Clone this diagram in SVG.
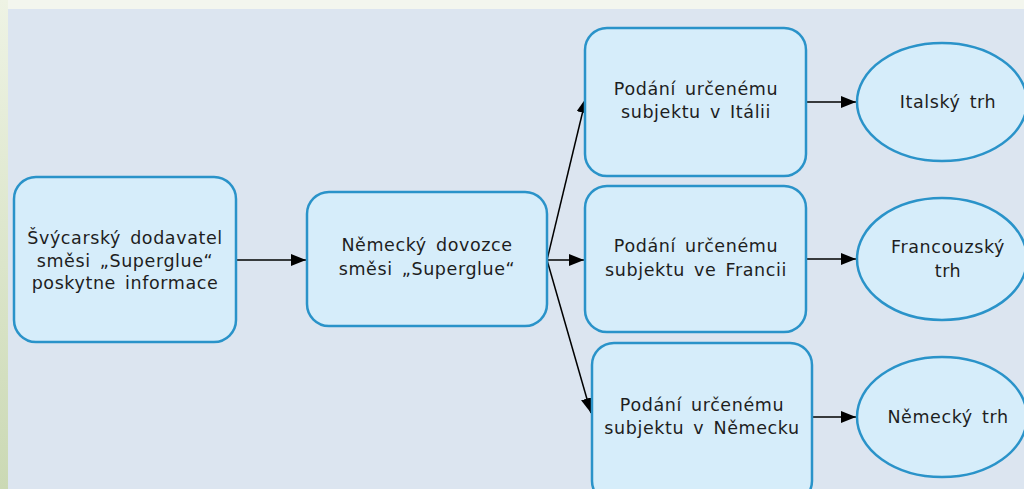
<svg xmlns="http://www.w3.org/2000/svg" width="1024" height="489" viewBox="0 0 1024 489">
<defs>
<linearGradient id="lg" x1="0" y1="0" x2="0" y2="1"><stop offset="0" stop-color="#eef3e4"/><stop offset="1" stop-color="#cbd9b4"/></linearGradient>
<marker id="ah" markerWidth="15" markerHeight="12" refX="15" refY="6" orient="auto" markerUnits="userSpaceOnUse"><path d="M0,0 L15,6 L0,12 z" fill="#000"/></marker>
<style>
.n{fill:#d6edfa;stroke:#2a93c9;stroke-width:2.5}
.t{font-family:"DejaVu Sans",Verdana,sans-serif;font-size:17.5px;letter-spacing:0.6px;word-spacing:3px;fill:#1e1e1e;text-anchor:middle}
.c{stroke:#000;stroke-width:1.5;fill:none;marker-end:url(#ah)}
</style>
</defs>
<rect x="0" y="0" width="1024" height="489" fill="#f3f6ee"/>
<rect x="0" y="0" width="8" height="489" fill="url(#lg)"/>
<rect x="8" y="9" width="1016" height="480" fill="#dce5f0"/>
<g id="connectors">
<line class="c" x1="236" y1="260" x2="306" y2="260"/>
<line class="c" x1="547" y1="260" x2="586" y2="98"/>
<line class="c" x1="547" y1="260" x2="584" y2="260"/>
<line class="c" x1="547" y1="260" x2="591" y2="413"/>
<line class="c" x1="806" y1="102" x2="856" y2="102"/>
<line class="c" x1="806" y1="259" x2="856" y2="259"/>
<line class="c" x1="812" y1="417" x2="856" y2="417"/>
</g>
<g id="n1"><rect class="n" x="14" y="177" width="222" height="165" rx="22"/>
<text class="t" x="125" y="244">Švýcarský dodavatel</text><text class="t" x="125" y="266.5">směsi „Superglue“</text><text class="t" x="125" y="289">poskytne informace</text></g>
<g id="n2"><rect class="n" x="307" y="192" width="240" height="134" rx="22"/>
<text class="t" x="427" y="251">Německý dovozce</text><text class="t" x="427" y="275">směsi „Superglue“</text></g>
<g id="n3"><rect class="n" x="585" y="28" width="221" height="148" rx="22"/>
<text class="t" x="696" y="95">Podání určenému</text><text class="t" x="696" y="118">subjektu v Itálii</text></g>
<g id="n4"><rect class="n" x="585" y="186" width="221" height="146" rx="22"/>
<text class="t" x="696" y="252">Podání určenému</text><text class="t" x="696" y="276">subjektu ve Francii</text></g>
<g id="n5"><rect class="n" x="592" y="343" width="220" height="160" rx="22"/>
<text class="t" x="702" y="411">Podání určenému</text><text class="t" x="702" y="434">subjektu v Německu</text></g>
<g id="e1"><ellipse class="n" cx="942" cy="102" rx="85" ry="59"/><text class="t" x="948" y="108">Italský trh</text></g>
<g id="e2"><ellipse class="n" cx="942" cy="259" rx="85" ry="61"/><text class="t" x="948" y="253">Francouzský</text><text class="t" x="948" y="277">trh</text></g>
<g id="e3"><ellipse class="n" cx="942" cy="417" rx="85" ry="60"/><text class="t" x="948" y="423">Německý trh</text></g>
</svg>
